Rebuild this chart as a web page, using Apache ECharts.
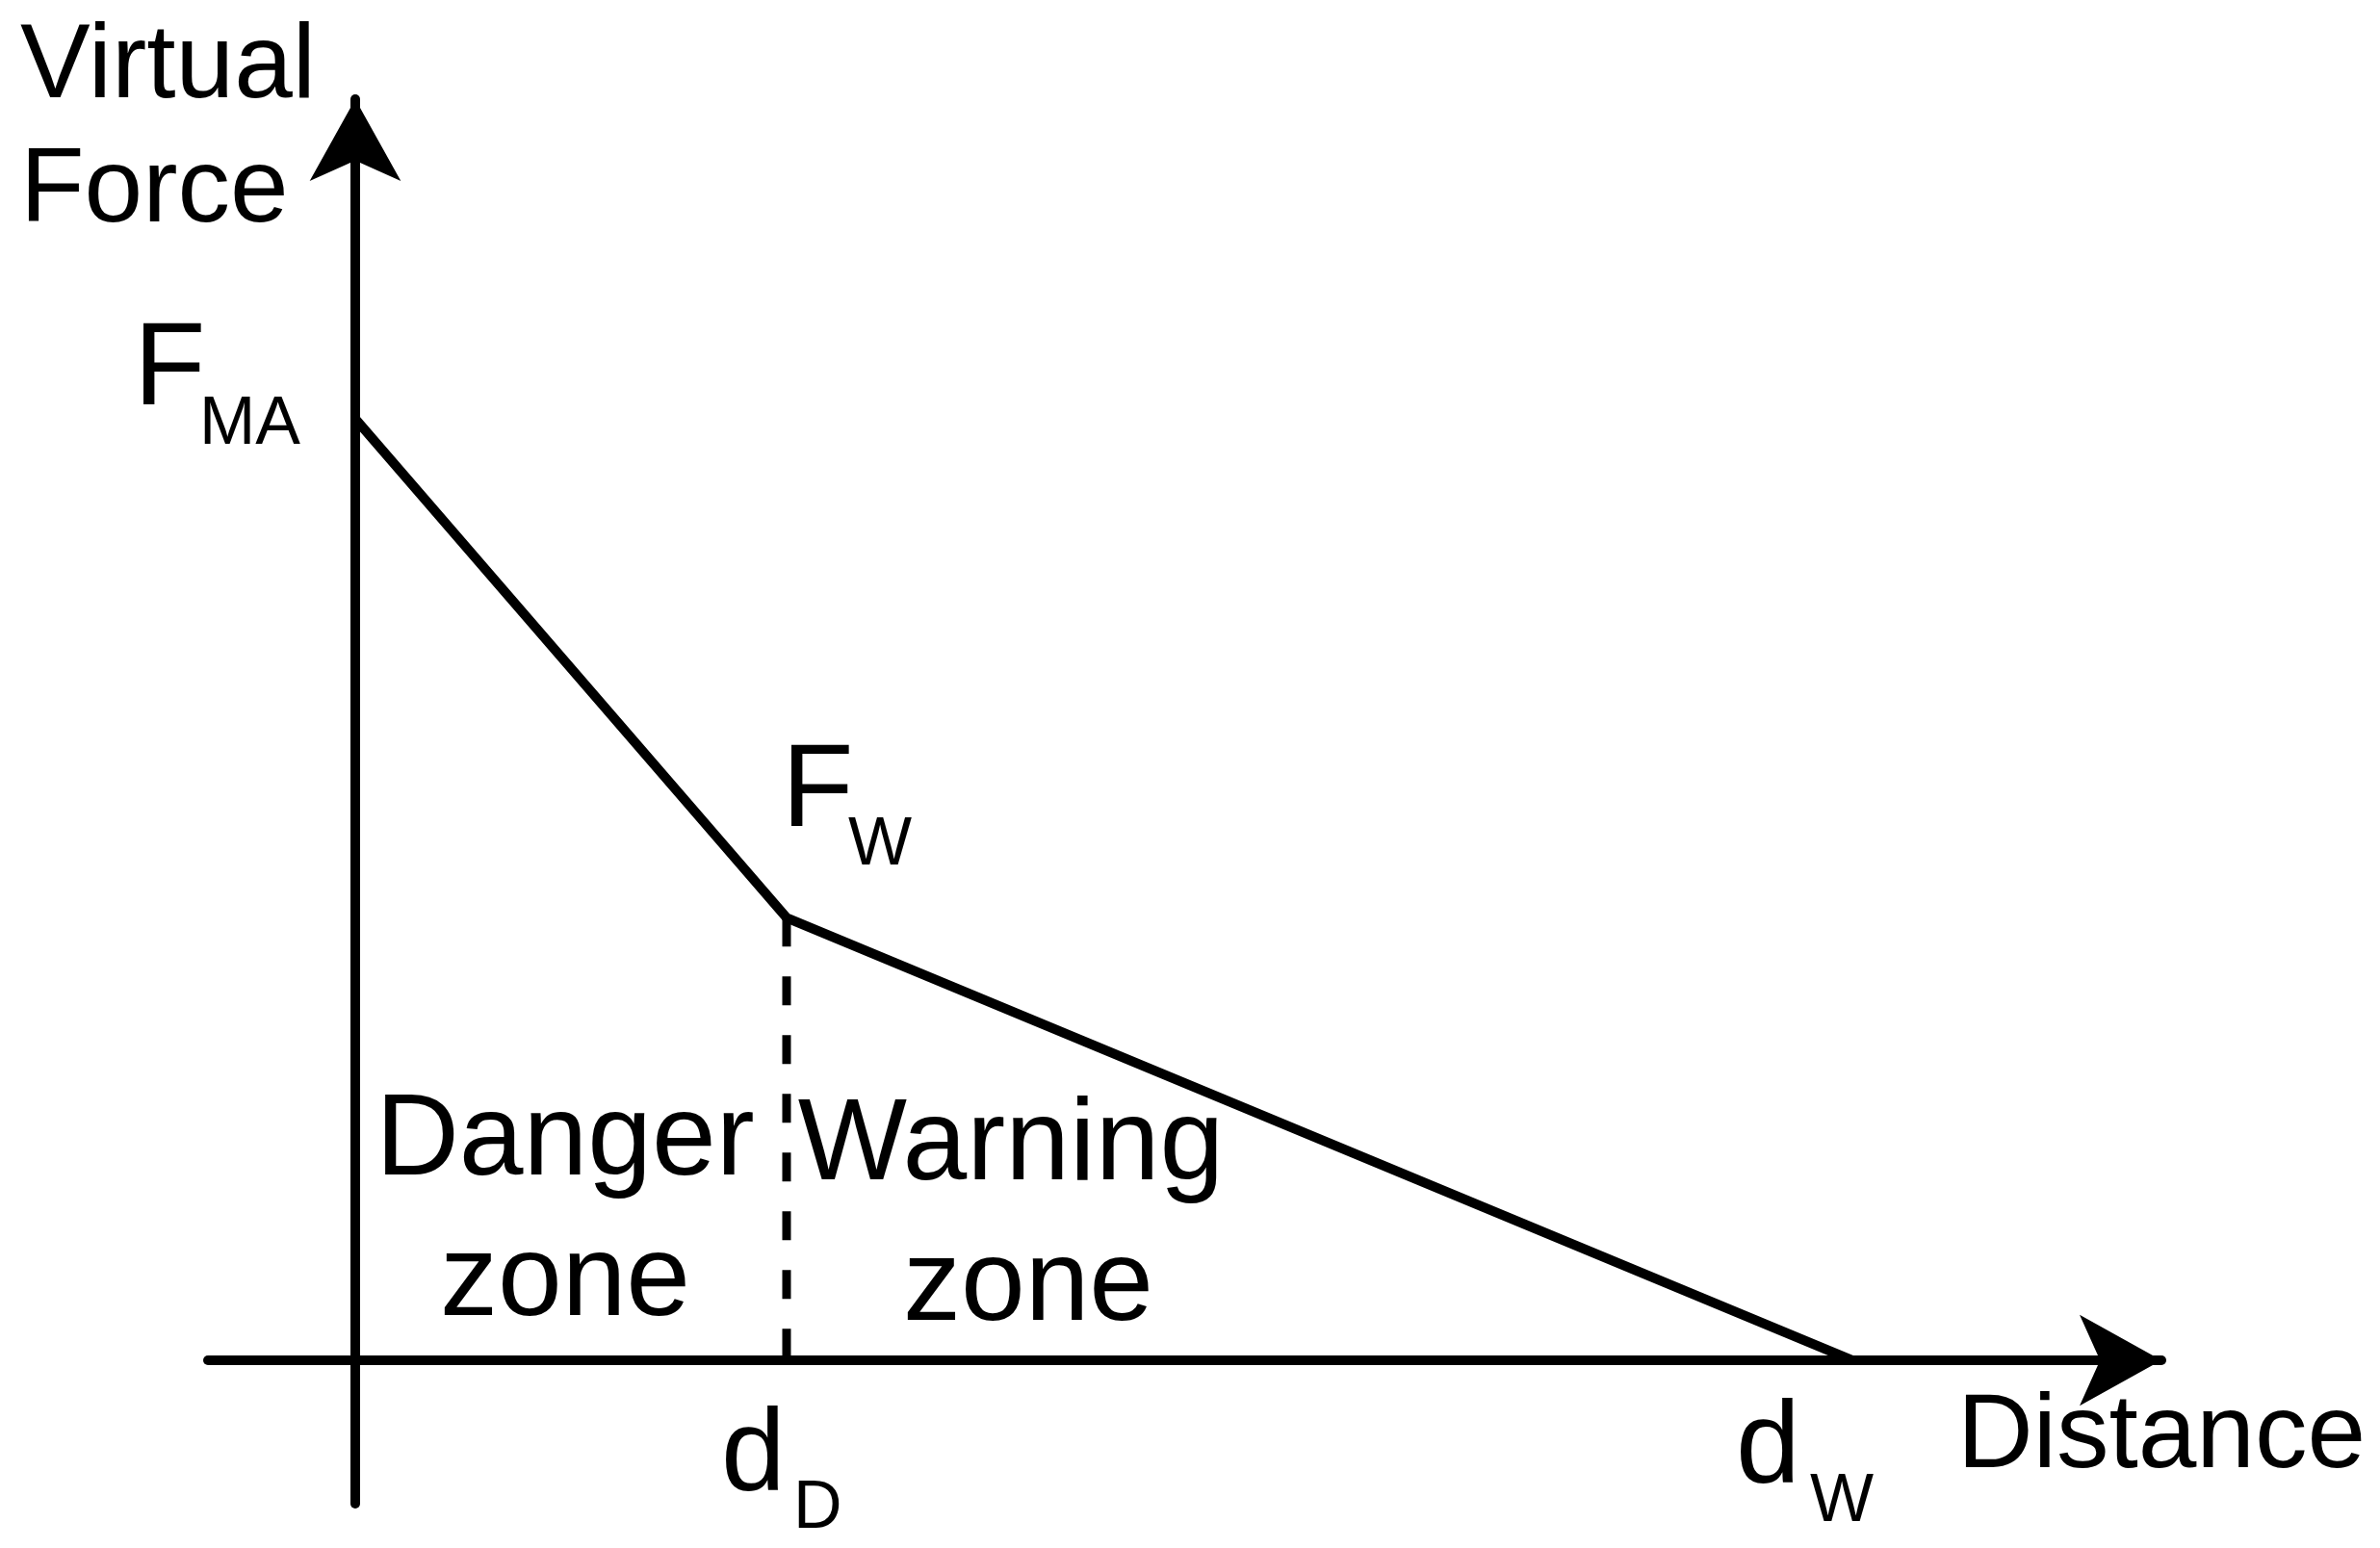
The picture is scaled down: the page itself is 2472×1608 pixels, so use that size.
<!DOCTYPE html>
<html>
<head>
<meta charset="utf-8">
<title>Virtual force vs distance</title>
<script src="https://cdn.jsdelivr.net/npm/echarts@6/dist/echarts.min.js"></script>
<style>
  html, body { margin: 0; padding: 0; background: #fff; }
  #chart { width: 2472px; height: 1608px; }
</style>
</head>
<body>
<div id="chart"></div>
<script>
// distance points: origin, d_D, d_W (d_D taken as 1 unit)
const distance = [0, 1, 3.47]
// force at those points: F_MA, F_W, 0 (F_MA taken as 1 unit)
const force = [1, 0.47, 0]
// dashed boundary between danger and warning zone
const boundaryX = [1, 1]
const boundaryY = [0.47, 0]

const yAxisName = ['Virtual', 'Force']
const xAxisName = 'Distance'
const forceLabels = [['F', 'MA'], ['F', 'W']]
const tickLabels = [['d', 'D'], ['d', 'W']]
const zoneLabels = [['Danger', 'zone'], ['Warning', 'zone']]

const FONT = '"Liberation Sans", Arial, sans-serif'
const MID = 0.29 // canvas 'middle' baseline -> alphabetic baseline, in em

// text placed by its alphabetic baseline
function txt(str, x, base, size, align) {
  return {
    type: 'text',
    silent: true,
    style: {
      text: str,
      x: x,
      y: base - MID * size,
      fill: '#000',
      fontSize: size,
      fontFamily: FONT,
      align: align || 'left',
      verticalAlign: 'middle'
    }
  }
}

const chart = echarts.init(document.getElementById('chart'))

const axisLineStyle = { color: '#000', width: 10 }

const option = {
  animation: false,
  backgroundColor: '#fff',
  grid: { left: 216, right: 227, top: 103, bottom: 46, containLabel: false },
  xAxis: {
    type: 'value',
    min: -0.3415,
    max: 4.1875,
    axisLine: { show: true, onZero: true, symbol: ['none', 'arrow'], symbolSize: [71, 85], lineStyle: axisLineStyle },
    axisTick: { show: false },
    axisLabel: { show: false },
    splitLine: { show: false }
  },
  yAxis: {
    type: 'value',
    min: -0.1524,
    max: 1.3395,
    axisLine: { show: true, onZero: true, symbol: ['none', 'arrow'], symbolSize: [71, 85], lineStyle: axisLineStyle },
    axisTick: { show: false },
    axisLabel: { show: false },
    splitLine: { show: false }
  },
  series: [
    {
      type: 'line',
      data: distance.map((d, i) => [d, force[i]]),
      symbol: 'none',
      lineStyle: { color: '#000', width: 10 },
      z: 3
    },
    {
      type: 'line',
      data: boundaryX.map((d, i) => [d, boundaryY[i]]),
      symbol: 'none',
      lineStyle: { color: '#000', width: 9, type: [30, 31] },
      z: 2
    }
  ],
  graphic: [
    txt(yAxisName[0], 21, 103, 109),
    txt(yAxisName[1], 21, 232, 109),
    txt(forceLabels[0][0], 139, 422, 122),
    txt(forceLabels[0][1], 207, 462, 70),
    txt(forceLabels[1][0], 812, 860, 122),
    txt(forceLabels[1][1], 881, 899, 70),
    txt(zoneLabels[0][0], 587, 1222, 120, 'center'),
    txt(zoneLabels[0][1], 587, 1368, 120, 'center'),
    txt(zoneLabels[1][0], 1050, 1227, 120, 'center'),
    txt(zoneLabels[1][1], 1068, 1373, 120, 'center'),
    txt(tickLabels[0][0], 749, 1549, 120),
    txt(tickLabels[0][1], 824, 1588, 70),
    txt(tickLabels[1][0], 1803, 1541, 120),
    txt(tickLabels[1][1], 1880, 1581, 70),
    txt(xAxisName, 2033, 1526, 109)
  ]
}

chart.setOption(option)
</script>
</body>
</html>
